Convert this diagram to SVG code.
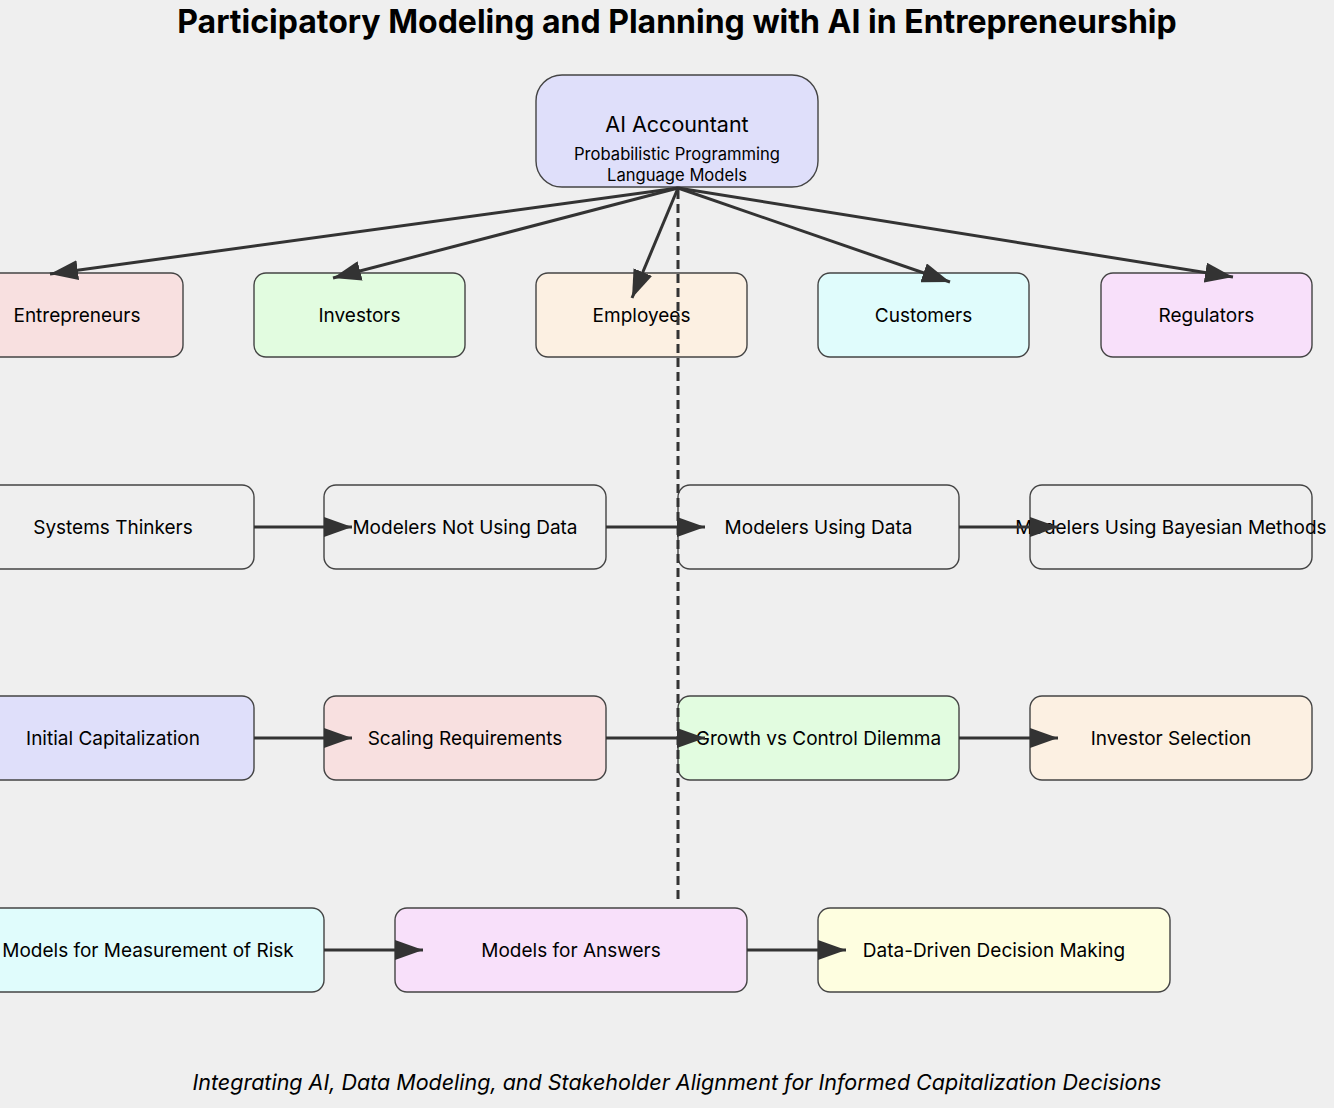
<svg xmlns="http://www.w3.org/2000/svg" width="1334" height="1108" viewBox="0 0 1334 1108">
<defs>
<style>
text{font-family:Inter,"Liberation Sans",sans-serif;fill:#000;}
.title{font-size:32px;font-weight:bold;text-anchor:middle;}
.foot{font-size:21.5px;font-style:italic;text-anchor:middle;}
.node rect{stroke:#444;stroke-width:1.4;}
.lbl{font-size:19px;text-anchor:middle;dominant-baseline:central;}
.big{font-size:21.5px;text-anchor:middle;dominant-baseline:central;}
.sub{font-size:16.6px;text-anchor:middle;dominant-baseline:central;}
.edge{stroke:#333;stroke-width:3;fill:none;marker-end:url(#ah);}
.dash{stroke:#333;stroke-width:3;fill:none;stroke-dasharray:9 5;}
</style>
<marker id="ah" viewBox="0 0 28 20" refX="28" refY="10" markerWidth="28" markerHeight="20" markerUnits="userSpaceOnUse" orient="auto">
<path d="M0,0 L28,10 L0,20 z" fill="#333"/>
</marker>
</defs>
<rect x="0" y="0" width="1334" height="1108" fill="#efefef"/>
<text class="title" x="677" y="33">Participatory Modeling and Planning with AI in Entrepreneurship</text>

<g id="ai">
<g class="node"><rect x="536" y="75" width="282" height="112" rx="26" fill="#dfdffa"/></g>
<text class="big" x="677" y="124">AI Accountant</text>
<text class="sub" x="677" y="154">Probabilistic Programming</text>
<text class="sub" x="677" y="175">Language Models</text>
</g>

<g id="entrepreneurs" class="node"><rect x="-28" y="273" width="211" height="84" rx="12" fill="#f8e0e0"/><text class="lbl" x="77" y="315">Entrepreneurs</text></g>
<g id="investors" class="node"><rect x="254" y="273" width="211" height="84" rx="12" fill="#e2fce0"/><text class="lbl" x="359.5" y="315">Investors</text></g>
<g id="employees" class="node"><rect x="536" y="273" width="211" height="84" rx="12" fill="#fcf0e2"/><text class="lbl" x="641.5" y="315">Employees</text></g>
<g id="customers" class="node"><rect x="818" y="273" width="211" height="84" rx="12" fill="#e0fcfc"/><text class="lbl" x="923.5" y="315">Customers</text></g>
<g id="regulators" class="node"><rect x="1101" y="273" width="211" height="84" rx="12" fill="#f8e0fa"/><text class="lbl" x="1206.5" y="315">Regulators</text></g>

<g id="systems" class="node"><rect x="-28" y="485" width="282" height="84" rx="12" fill="#efefef"/><text class="lbl" x="113" y="527">Systems Thinkers</text></g>
<g id="notdata" class="node"><rect x="324" y="485" width="282" height="84" rx="12" fill="#efefef"/><text class="lbl" x="465" y="527">Modelers Not Using Data</text></g>
<g id="usingdata" class="node"><rect x="678" y="485" width="281" height="84" rx="12" fill="#efefef"/><text class="lbl" x="818.5" y="527">Modelers Using Data</text></g>
<g id="bayesian" class="node"><rect x="1030" y="485" width="282" height="84" rx="12" fill="#efefef"/><text class="lbl" x="1171" y="527">Modelers Using Bayesian Methods</text></g>

<g id="initial" class="node"><rect x="-28" y="696" width="282" height="84" rx="12" fill="#dfdffa"/><text class="lbl" x="113" y="738">Initial Capitalization</text></g>
<g id="scaling" class="node"><rect x="324" y="696" width="282" height="84" rx="12" fill="#f8e0e0"/><text class="lbl" x="465" y="738">Scaling Requirements</text></g>
<g id="growth" class="node"><rect x="678" y="696" width="281" height="84" rx="12" fill="#e2fce0"/><text class="lbl" x="818.5" y="738">Growth vs Control Dilemma</text></g>
<g id="selection" class="node"><rect x="1030" y="696" width="282" height="84" rx="12" fill="#fcf0e2"/><text class="lbl" x="1171" y="738">Investor Selection</text></g>

<g id="risk" class="node"><rect x="-28" y="908" width="352" height="84" rx="12" fill="#e0fcfc"/><text class="lbl" x="148" y="950">Models for Measurement of Risk</text></g>
<g id="answers" class="node"><rect x="395" y="908" width="352" height="84" rx="12" fill="#f8e0fa"/><text class="lbl" x="571" y="950">Models for Answers</text></g>
<g id="datadriven" class="node"><rect x="818" y="908" width="352" height="84" rx="12" fill="#fefee0"/><text class="lbl" x="994" y="950">Data-Driven Decision Making</text></g>

<g id="connectors">
<line class="edge" x1="678" y1="188" x2="50" y2="274"/>
<line class="edge" x1="678" y1="188" x2="333" y2="278"/>
<line class="edge" x1="678" y1="188" x2="632" y2="298"/>
<line class="edge" x1="678" y1="188" x2="950" y2="282"/>
<line class="edge" x1="678" y1="188" x2="1233" y2="277"/>
<line class="dash" x1="678" y1="190" x2="678" y2="900"/>
<line class="edge" x1="254" y1="527" x2="352" y2="527"/>
<line class="edge" x1="606" y1="527" x2="705" y2="527"/>
<line class="edge" x1="959" y1="527" x2="1058" y2="527"/>
<line class="edge" x1="254" y1="738" x2="352" y2="738"/>
<line class="edge" x1="606" y1="738" x2="705" y2="738"/>
<line class="edge" x1="959" y1="738" x2="1058" y2="738"/>
<line class="edge" x1="324" y1="950" x2="423" y2="950"/>
<line class="edge" x1="747" y1="950" x2="846" y2="950"/>
</g>

<text class="foot" x="677" y="1090">Integrating AI, Data Modeling, and Stakeholder Alignment for Informed Capitalization Decisions</text>
</svg>
